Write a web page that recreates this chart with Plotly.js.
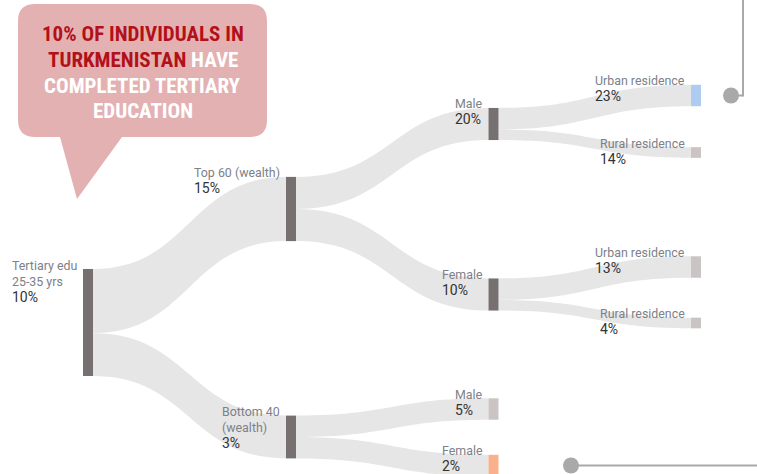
<!DOCTYPE html>
<html><head><meta charset="utf-8">
<script src="https://cdn.plot.ly/plotly-3.0.1.min.js"></script>
<style>html,body{margin:0;padding:0;background:#fff;overflow:hidden}#chart{width:757px;height:474px}</style>
</head><body><div id="chart"></div>
<script>
// ---- data ----
const nodeNames = ['Tertiary edu<br>25-35 yrs', 'Top 60 (wealth)', 'Bottom 40<br>(wealth)', 'Male', 'Female',
  'Urban residence', 'Rural residence', 'Urban residence', 'Rural residence', 'Male', 'Female'];
const nodePercents = [10, 15, 3, 20, 10, 23, 14, 13, 4, 5, 2];
const linkSources = [0, 0, 1, 1, 3, 3, 4, 4, 2, 2];
const linkTargets = [1, 2, 3, 4, 5, 6, 7, 8, 9, 10];
const linkShares  = [60, 40, 30, 30, 20, 10, 20, 10, 20, 20];
const calloutLines = [
  '<span style="color:#b3111a">10% OF INDIVIDUALS IN</span>',
  '<span style="color:#b3111a">TURKMENISTAN</span> HAVE',
  'COMPLETED TERTIARY',
  'EDUCATION'
];

// ---- layout / style ----
const W = 757, H = 474;
const nodeCenterX = [88, 291, 291, 493.5, 493.5, 696, 696, 696, 696, 493.5, 493.5];
const nodeCenterY = [322.5, 209, 437, 124, 294.5, 95.5, 152.5, 267, 323, 409, 465.5];
const nodeColors = ['#767070', '#767070', '#767070', '#767070', '#767070',
  '#aecbf1', '#cbc4c4', '#cbc4c4', '#cbc4c4', '#cbc4c4', '#fbb08c'];
const KY = 1.07, THICK = 10;

const totals = nodeNames.map((_, i) => {
  let inn = 0, out = 0;
  linkSources.forEach((s, k) => { if (s === i) out += linkShares[k]; if (linkTargets[k] === i) inn += linkShares[k]; });
  return Math.max(inn, out);
});
const rootTotal = totals[0];

const px = x => x / W;
const py = y => 1 - y / H;

const annotations = nodeNames.map((name, i) => {
  const top = nodeCenterY[i] - totals[i] * KY / 2;
  const left = nodeCenterX[i] - THICK / 2;
  return {
    xref: 'paper', yref: 'paper', x: px(left - 4), y: py(top - 13.5),
    xanchor: 'right', yanchor: 'top', align: 'left', showarrow: false,
    text: name + '<br><span style="font-size:14px;color:#333333">' + nodePercents[i] + '%</span>',
    font: {family: 'Roboto, sans-serif', size: 12.4, color: '#7d8188'}
  };
});

calloutLines.forEach((t, k) => {
  annotations.push({
    xref: 'paper', yref: 'paper', x: px(142.5), y: py(20.5 + k * 25.6), xanchor: 'center', yanchor: 'top',
    align: 'center', showarrow: false, text: t,
    font: {family: 'Roboto Condensed, Liberation Sans Narrow, DejaVu Sans Condensed, Roboto', size: 21, color: '#ffffff', weight: 'bold'}
  });
});

const bubblePath = [
  'M', px(35), py(4), 'L', px(250), py(4), 'Q', px(267), py(4), px(267), py(21),
  'L', px(267), py(120), 'Q', px(267), py(137), px(250), py(137),
  'L', px(122), py(137), 'L', px(77), py(199), 'L', px(60), py(137),
  'L', px(35), py(137), 'Q', px(18), py(137), px(18), py(120),
  'L', px(18), py(21), 'Q', px(18), py(4), px(35), py(4), 'Z'
];
let pathStr = '';
for (let i = 0; i < bubblePath.length; i++) {
  const t = bubblePath[i];
  if (typeof t === 'string') pathStr += t + ' ';
  else { pathStr += t + ',' + bubblePath[i + 1] + ' '; i++; }
}

const lineCol = '#a9a9a9';
const shapes = [
  {type: 'path', xref: 'paper', yref: 'paper', path: pathStr, fillcolor: '#e4b1b2', line: {width: 0}},
  {type: 'line', xref: 'paper', yref: 'paper', x0: px(731), y0: py(95.5), x1: px(743), y1: py(95.5), line: {color: lineCol, width: 2}},
  {type: 'line', xref: 'paper', yref: 'paper', x0: px(743), y0: py(96.5), x1: px(743), y1: py(-2), line: {color: lineCol, width: 2}},
  {type: 'circle', xref: 'paper', yref: 'paper', x0: px(723), y0: py(87.5), x1: px(739), y1: py(103.5), fillcolor: '#a9a9a9', line: {width: 0}},
  {type: 'line', xref: 'paper', yref: 'paper', x0: px(571), y0: py(465.5), x1: px(760), y1: py(465.5), line: {color: lineCol, width: 2}},
  {type: 'circle', xref: 'paper', yref: 'paper', x0: px(563), y0: py(457.5), x1: px(579), y1: py(473.5), fillcolor: '#a9a9a9', line: {width: 0}}
];

// Invisible scale helper: an empty flow sets the sankey's pixels-per-unit to KY (node pad 0).
const n = nodeNames.length;
const spacer = H / KY - rootTotal;
const trace = {
  type: 'sankey', arrangement: 'fixed', domain: {x: [0, 1], y: [0, 1]},
  node: {
    label: nodeNames.map(() => '').concat(['', '']),
    x: nodeCenterX.map(v => v / W).concat([0.001, 0.002]),
    y: nodeCenterY.map(v => v / H).concat([0.5, 0.5]),
    pad: 0, thickness: THICK, color: nodeColors.concat(['rgba(0,0,0,0)', 'rgba(0,0,0,0)']),
    line: {width: 0}, align: 'left', hoverinfo: 'none'
  },
  link: {
    source: linkSources.concat([n]), target: linkTargets.concat([n + 1]), value: linkShares.concat([spacer]),
    color: linkShares.map(() => '#e6e6e6').concat(['rgba(0,0,0,0)']), hoverinfo: 'none'
  }
};

Plotly.newPlot('chart', [trace], {
  width: W, height: H, margin: {l: 0, r: 0, t: 0, b: 0},
  paper_bgcolor: '#ffffff', plot_bgcolor: '#ffffff', showlegend: false,
  annotations: annotations, shapes: shapes
}, {displayModeBar: false, staticPlot: true});
</script></body></html>
